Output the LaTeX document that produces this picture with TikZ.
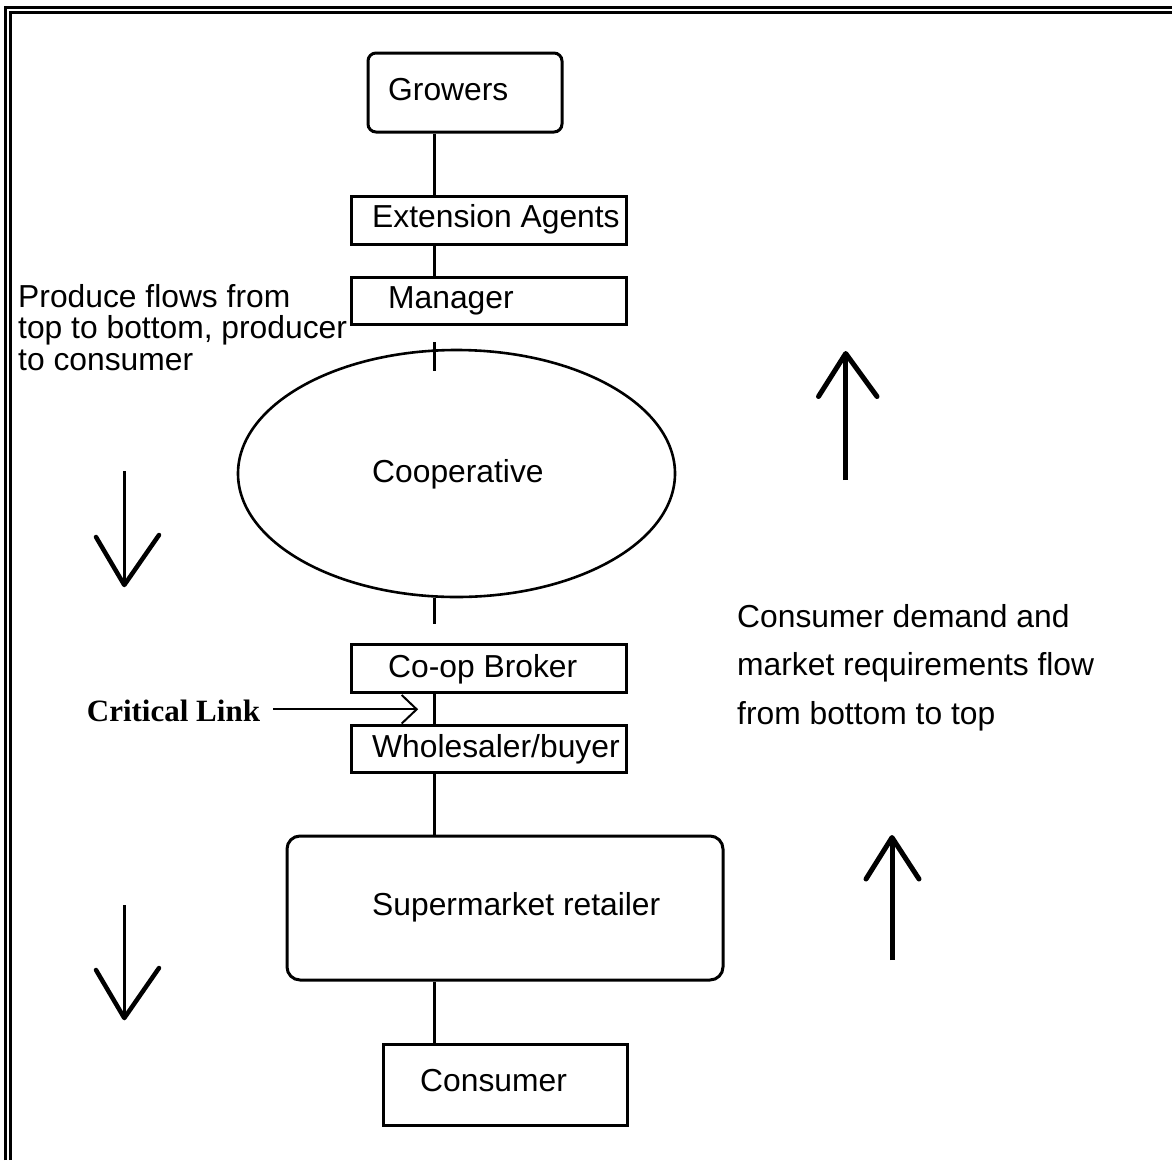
\documentclass[tikz,border=0pt]{standalone}
\usepackage{fontspec}
\setmainfont{Liberation Sans}
\newfontfamily\critfont{Liberation Serif}
\usetikzlibrary{shapes.geometric}
\newcommand\diagfont{\fontsize{31.8}{36}\selectfont}
\begin{document}
\begin{tikzpicture}[x=1pt,y=-1pt,
  stagebox/.style={draw, line width=3pt, rectangle, inner sep=0pt},
  roundbox/.style={stagebox, rounded corners=#1},
  label/.style={anchor=base west, inner sep=0pt, font=\diagfont},
  link/.style={line width=3pt},
  flowshaft/.style={line width=#1},
  flowhead/.style={line width=#1, line join=round, line cap=round}
]
\useasboundingbox (0,0) rectangle (1172,1160);

% double frame rule, left and top
\draw[line width=3pt, line join=miter] (5.5,1160) -- (5.5,7.5) -- (1172,7.5);
\draw[line width=3pt, line join=miter] (10.5,1160) -- (10.5,12.5) -- (1172,12.5);

% stages of the chain
\node[roundbox=8pt, minimum width=194pt, minimum height=79pt] (growers) at (465,92.5) {};
\node[stagebox, minimum width=275pt, minimum height=48pt] (agents) at (488.5,220) {};
\node[stagebox, minimum width=275pt, minimum height=47pt] (manager) at (488.5,300.5) {};
\node[draw, line width=2.6pt, ellipse, inner sep=0pt, minimum width=437pt, minimum height=247pt] (coop) at (456.5,473.5) {};
\node[stagebox, minimum width=275pt, minimum height=48pt] (broker) at (488.5,668) {};
\node[stagebox, minimum width=275pt, minimum height=47pt] (wholesaler) at (488.5,748.5) {};
\node[roundbox=13pt, minimum width=436pt, minimum height=144pt] (retailer) at (505,908) {};
\node[stagebox, minimum width=244pt, minimum height=81pt] (consumer) at (505,1084.5) {};

% stage names
\node[label] (growersT) at (388,100) {Growers};
\node[label] (agentsT) at (372,227) {Extension Agents};
\node[label] (managerT) at (388,308.5) {Manager};
\node[label] (coopT) at (372,482) {Cooperative};
\node[label] (brokerT) at (388,677) {Co-op Broker};
\node[label] (wholesalerT) at (372,757) {Wholesaler/buyer};
\node[label] (retailerT) at (372,915) {Supermarket retailer};
\node[label] (consumerT) at (420,1091) {Consumer};

% vertical links along the chain
\coordinate (spine) at (434,0);
\coordinate (mgrLow) at (434,342);
\coordinate (coopTop) at (434,371);
\coordinate (coopLow) at (434,624);
\draw[link] (growers.south -| spine) -- (agents.north -| spine);
\draw[link] (agents.south -| spine) -- (manager.north -| spine);
\draw[link] (mgrLow) -- (coopTop);
\draw[link] (coop.south -| spine) -- (coopLow);
\draw[link] (broker.south -| spine) -- (wholesaler.north -| spine);
\draw[link] (wholesaler.south -| spine) -- (retailer.north -| spine);
\draw[link] (retailer.south -| spine) -- (consumer.north -| spine);

% critical link pointer
\node[anchor=base west, inner sep=0pt, font={\critfont\bfseries\fontsize{31}{36}\selectfont}] (critT) at (86.7,721.7) {Critical Link};
\coordinate (critS) at (273,709.3);
\coordinate (critE) at (416.7,709.3);
\draw[line width=2pt] (critS) -- (critE);
\draw[line width=2pt, line join=miter] (401.7,695) -- (critE) -- (401.7,723.5);

% explanatory notes
\node[label] (prodA) at (18,307) {Produce flows from};
\node[label] (prodB) at (18,338.5) {top to bottom, producer};
\node[label] (prodC) at (18,370) {to consumer};
\node[label] (demA) at (737,627) {Consumer demand and};
\node[label] (demB) at (737,675.5) {market requirements flow};
\node[label] (demC) at (737,724) {from bottom to top};

% downward flow arrows (produce)
\draw[flowshaft=3pt] (124.3,471) -- (124.3,584);
\draw[flowhead=4.5pt] (96,537) -- (124.3,585) -- (159,535);
\draw[flowshaft=3pt] (124.3,905) -- (124.3,1018);
\draw[flowhead=4.5pt] (96,970) -- (124.3,1018) -- (159,968);

% upward flow arrows (demand)
\draw[flowshaft=5pt] (845.7,480) -- (845.7,354);
\draw[flowhead=5pt] (818.5,396.5) -- (845.7,353.5) -- (877,396.5);
\draw[flowshaft=5pt] (892,960) -- (892,838);
\draw[flowhead=5pt] (866,879) -- (892,837.5) -- (919,879);
\end{tikzpicture}
\end{document}
